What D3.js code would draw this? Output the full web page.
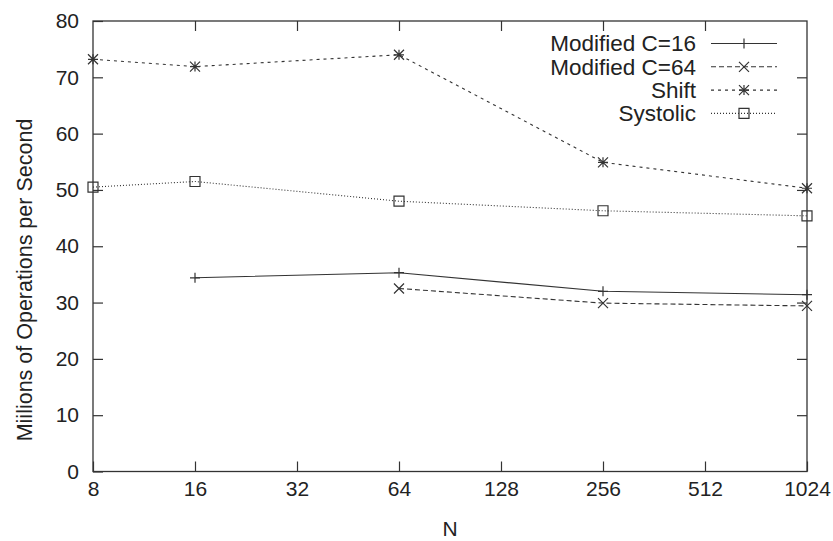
<!DOCTYPE html>
<html>
<head>
<meta charset="utf-8">
<script src="https://cdn.jsdelivr.net/npm/d3@7"></script>
<style>
  body { margin: 0; background: #fff; }
  svg text { font-family: "Liberation Sans", Arial, sans-serif; fill: #222; }
</style>
</head>
<body>
<svg id="chart" width="833" height="541"></svg>
<script>
// data
const nValues = [8, 16, 32, 64, 128, 256, 512, 1024];
const yTicks = [0, 10, 20, 30, 40, 50, 60, 70, 80];
const seriesNames = ['Modified C=16', 'Modified C=64', 'Shift', 'Systolic'];
const modC16 = [[16, 34.4], [64, 35.3], [256, 32.0], [1024, 31.4]];
const modC64 = [[64, 32.5], [256, 29.9], [1024, 29.4]];
const shift = [[8, 73.2], [16, 71.9], [64, 74.0], [256, 54.9], [1024, 50.3]];
const systolic = [[8, 50.5], [16, 51.5], [64, 48.0], [256, 46.3], [1024, 45.4]];

const series = [
  { name: seriesNames[0], data: modC16, dash: null, marker: 'plus' },
  { name: seriesNames[1], data: modC64, dash: '5,3', marker: 'cross' },
  { name: seriesNames[2], data: shift, dash: '3,4', marker: 'star' },
  { name: seriesNames[3], data: systolic, dash: '1,2', marker: 'square' },
];

const svg = d3.select('#chart');
const mLeft = 93, mRight = 807, mTop = 21, mBottom = 471.5;
const ink = '#333';

const x = d3.scaleLog().base(2).domain([8, 1024]).range([mLeft, mRight]);
const y = d3.scaleLinear().domain([0, 80]).range([mBottom, mTop]);

// axes, ticks pointing inward on all four sides
const fontSize = 21;
const axisStyle = (g) => {
  g.select('.domain').remove();
  g.selectAll('.tick line').attr('stroke', ink).attr('stroke-width', 1.2);
  g.selectAll('text').attr('font-size', fontSize).attr('font-family', null).attr('fill', '#222');
};

svg.append('g')
  .attr('transform', `translate(${mLeft},0)`)
  .call(d3.axisLeft(y).tickValues(yTicks).tickSize(-10).tickPadding(14))
  .call(axisStyle);
svg.append('g')
  .attr('transform', `translate(${mRight},0)`)
  .call(d3.axisRight(y).tickValues(yTicks.slice(1, -1)).tickSize(-10).tickFormat(''))
  .call(axisStyle);
svg.append('g')
  .attr('transform', `translate(0,${mBottom})`)
  .call(d3.axisBottom(x).tickValues(nValues).tickSize(-10).tickPadding(10).tickFormat(d3.format('d')))
  .call(axisStyle);
svg.append('g')
  .attr('transform', `translate(0,${mTop})`)
  .call(d3.axisTop(x).tickValues(nValues.slice(1, -1)).tickSize(-10).tickFormat(''))
  .call(axisStyle);

svg.append('rect')
  .attr('x', mLeft)
  .attr('y', mTop)
  .attr('width', mRight - mLeft)
  .attr('height', mBottom - mTop)
  .attr('fill', 'none')
  .attr('stroke', ink)
  .attr('stroke-width', 1.3);

// axis titles
svg.append('text')
  .attr('x', (mLeft + mRight) / 2)
  .attr('y', 536)
  .attr('text-anchor', 'middle')
  .attr('font-size', fontSize)
  .text('N');
svg.append('text')
  .attr('transform', 'translate(32,280) rotate(-90)')
  .attr('text-anchor', 'middle')
  .attr('font-size', 21.5)
  .text('Miilions of Operations per Second');

function marker(g, type, cx, cy) {
  const s = 5;
  let d = '';
  if (type === 'plus') {
    d = `M${cx - s},${cy}H${cx + s}M${cx},${cy - s}V${cy + s}`;
  } else if (type === 'cross') {
    d = `M${cx - s},${cy - s}L${cx + s},${cy + s}M${cx - s},${cy + s}L${cx + s},${cy - s}`;
  } else if (type === 'star') {
    d = `M${cx - s},${cy}H${cx + s}M${cx},${cy - s}V${cy + s}` +
      `M${cx - s},${cy - s}L${cx + s},${cy + s}M${cx - s},${cy + s}L${cx + s},${cy - s}`;
  } else {
    d = `M${cx - s},${cy - s}H${cx + s}V${cy + s}H${cx - s}Z`;
  }
  g.append('path')
    .attr('d', d)
    .attr('fill', 'none')
    .attr('stroke', ink)
    .attr('stroke-width', 1.2);
}

const line = d3.line()
  .x((d) => x(d[0]))
  .y((d) => y(d[1]));

const plot = svg.append('g');
series.forEach((s) => {
  plot.append('path')
    .datum(s.data)
    .attr('d', line)
    .attr('fill', 'none')
    .attr('stroke', ink)
    .attr('stroke-width', 1.1)
    .attr('stroke-dasharray', s.dash);
  s.data.forEach((d) => marker(plot, s.marker, x(d[0]), y(d[1])));
});

// legend, top right inside the frame
const legend = svg.append('g');
series.forEach((s, i) => {
  const ly = 43.5 + i * 23.3;
  legend.append('text')
    .attr('x', 696)
    .attr('y', ly)
    .attr('dy', '0.35em')
    .attr('text-anchor', 'end')
    .attr('font-size', 22.5)
    .text(s.name);
  legend.append('line')
    .attr('x1', 711)
    .attr('x2', 777)
    .attr('y1', ly)
    .attr('y2', ly)
    .attr('stroke', ink)
    .attr('stroke-width', 1.1)
    .attr('stroke-dasharray', s.dash);
  marker(legend, s.marker, 744, ly);
});
</script>
</body>
</html>
